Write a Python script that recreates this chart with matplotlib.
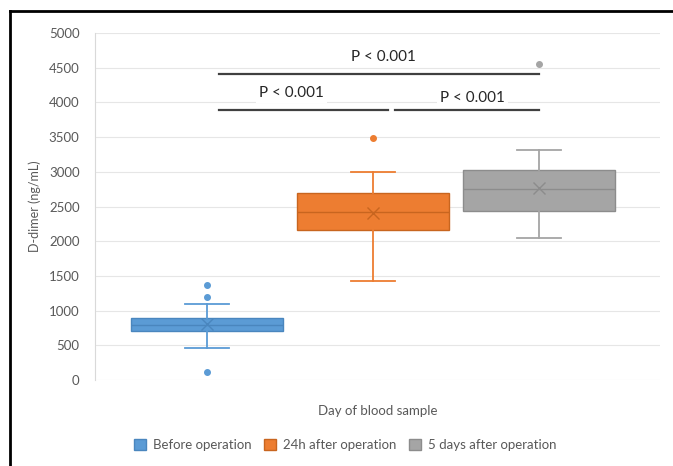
"""D-dimer box plot before and after operation."""
import matplotlib
matplotlib.use("Agg")
import matplotlib.pyplot as plt
from matplotlib.lines import Line2D
from matplotlib.patches import Patch

plt.rcParams["font.family"] = ["Lato", "DejaVu Sans"]

groups = ["Before operation", "24h after operation", "5 days after operation"]
whislo = [457, 1420, 2045]
q1 = [706, 2162, 2440]
med = [800, 2418, 2748]
q3 = [889, 2700, 3026]
whishi = [1100, 2995, 3320]
means = [808, 2405, 2762]
fliers = [[111, 1196, 1369], [3495], [4560]]

fills = ["#5B9BD5", "#ED7D31", "#A5A5A5"]
edges = ["#4A86BE", "#C8651F", "#8C8C8C"]

# brackets: (x start, x end, y, label, label x, label y)
brackets = [
    (1.07, 3.0, 4410, "P < 0.001", 2.06, 4660),
    (1.07, 2.09, 3890, "P < 0.001", 1.51, 4130),
    (2.13, 3.0, 3890, "P < 0.001", 2.60, 4070),
]

fig = plt.figure(figsize=(6.73, 4.66), dpi=100)
ax = fig.add_axes([0.141, 0.1845, 0.84, 0.7445])

positions = [1, 2, 3]
for i in range(3):
    stats = [{
        "whislo": whislo[i], "q1": q1[i], "med": med[i], "q3": q3[i],
        "whishi": whishi[i], "mean": means[i], "fliers": fliers[i],
    }]
    ax.bxp(stats, positions=[positions[i]], widths=0.91, patch_artist=True,
           showmeans=True, manage_ticks=False,
           boxprops=dict(facecolor=fills[i], edgecolor=edges[i], linewidth=1.0),
           medianprops=dict(color=edges[i], linewidth=1.0),
           whiskerprops=dict(color=fills[i], linewidth=1.3),
           capprops=dict(color=fills[i], linewidth=1.3),
           capwidths=0.27,
           meanprops=dict(marker="x", markeredgecolor=edges[i], markersize=8,
                          markeredgewidth=1.0),
           flierprops=dict(marker="o", markerfacecolor=fills[i], markeredgecolor=fills[i],
                           markersize=4))

for x0, x1, y, label, tx, ty in brackets:
    ax.plot([x0, x1], [y, y], color="#404040", linewidth=1.6, zorder=4)
    ax.text(tx, ty, label, ha="center", va="center", fontsize=11, color="#262626",
            bbox=dict(facecolor="white", edgecolor="none", pad=2), zorder=5)

ax.set_xlim(0.325, 3.73)
ax.set_ylim(0, 5000)
ax.set_yticks(range(0, 5001, 500))
ax.set_xticks([])
ax.tick_params(axis="y", length=0, labelsize=9.5, labelcolor="#595959", pad=11)
ax.yaxis.grid(True, color="#E6E6E6", linewidth=0.8)
ax.set_axisbelow(True)
for side in ["top", "right", "bottom"]:
    ax.spines[side].set_visible(False)
ax.spines["left"].set_color("#D9D9D9")
ax.set_ylabel("D-dimer (ng/mL)", fontsize=9, color="#595959", labelpad=6)
ax.set_xlabel("Day of blood sample", fontsize=9.5, color="#595959", labelpad=18)

handles = [Patch(facecolor=f, edgecolor=e, label=g) for f, e, g in zip(fills, edges, groups)]
fig.legend(handles=handles, loc="center", bbox_to_anchor=(0.513, 0.045), ncol=3,
           frameon=False, fontsize=9.5, handlelength=0.9, handleheight=0.9,
           columnspacing=1.0, handletextpad=0.5, labelcolor="#595959")

# black frame at left and top
fig.add_artist(Line2D([0.015, 0.015], [0, 0.977], transform=fig.transFigure,
                      color="black", linewidth=2))
fig.add_artist(Line2D([0.015, 1.0], [0.977, 0.977], transform=fig.transFigure,
                      color="black", linewidth=2))

fig.savefig("out.png", dpi=100, facecolor="white")
